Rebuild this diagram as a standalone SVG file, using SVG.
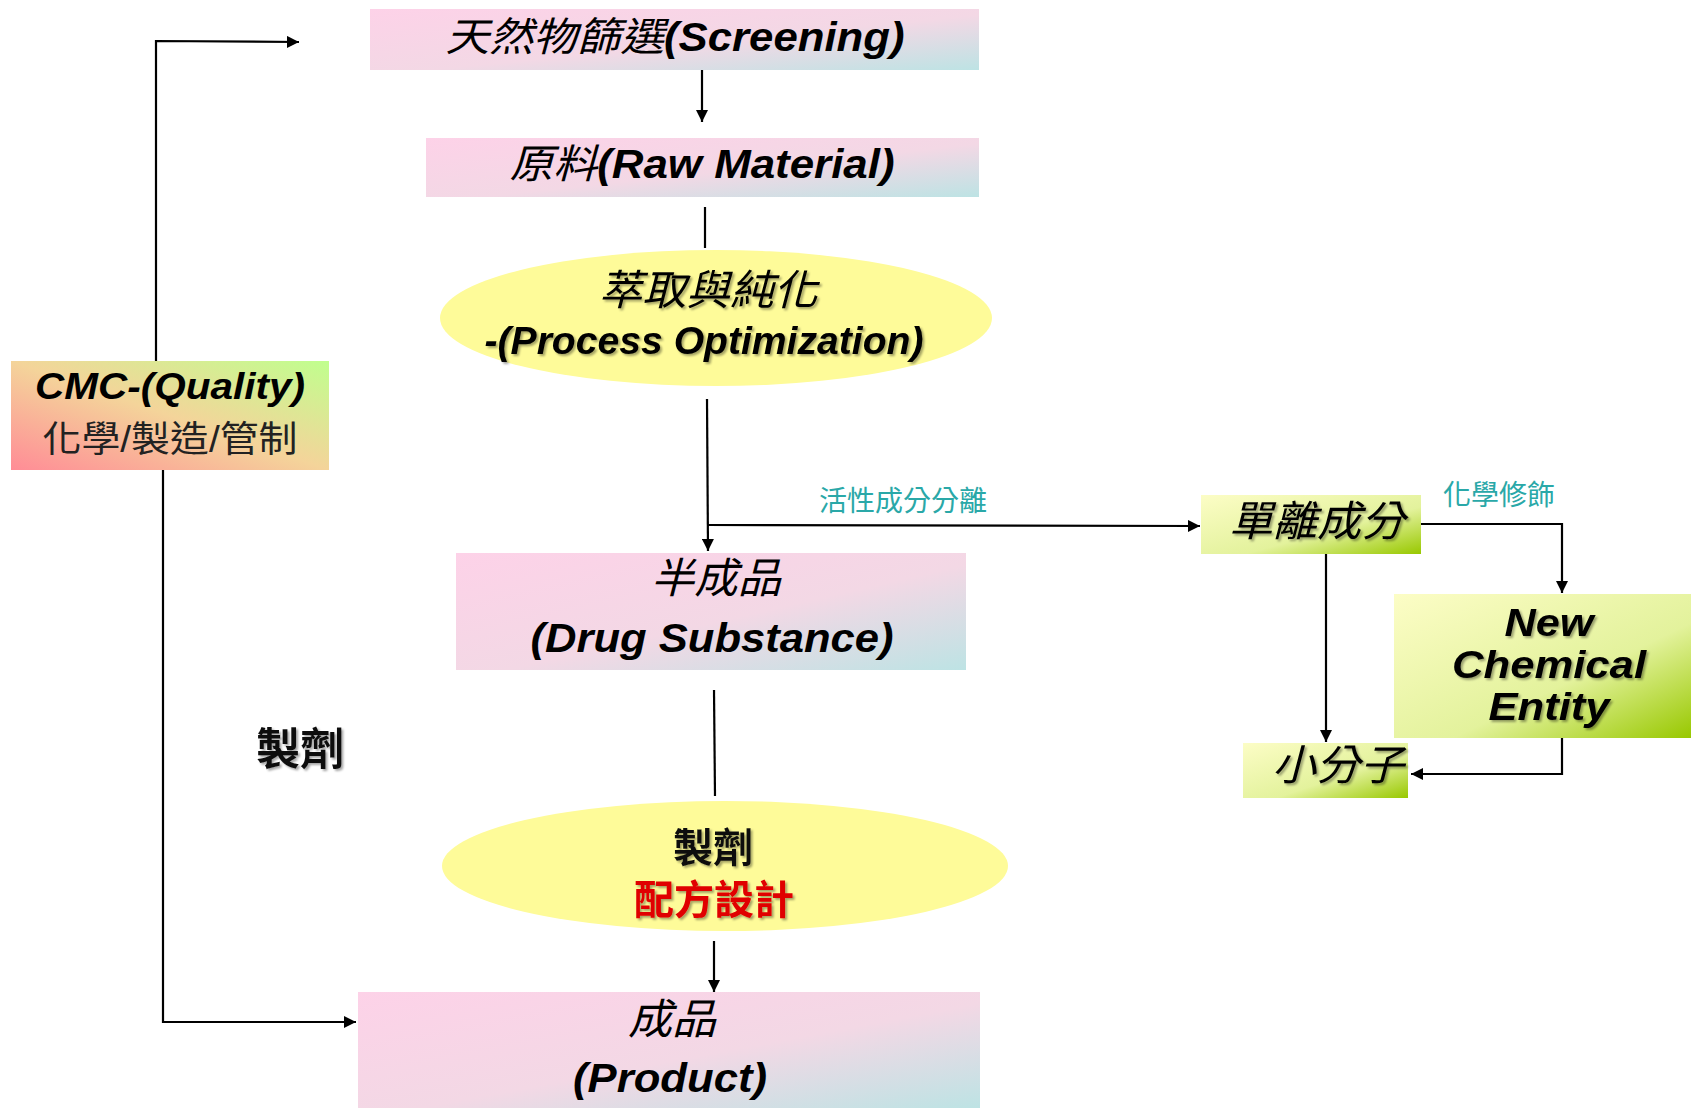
<svg xmlns="http://www.w3.org/2000/svg" width="1691" height="1108" viewBox="0 0 1691 1108">
<defs>
<linearGradient id="pink" x1="0" y1="0" x2="1" y2="1">
<stop offset="0" stop-color="#fdd2e8"/><stop offset="0.55" stop-color="#f3d8e5"/><stop offset="1" stop-color="#bde3e4"/>
</linearGradient>
<linearGradient id="green" x1="0" y1="0" x2="1" y2="1">
<stop offset="0" stop-color="#fcfdc6"/><stop offset="0.6" stop-color="#e3f29c"/><stop offset="1" stop-color="#98c800"/>
</linearGradient>
<linearGradient id="cmc" x1="0" y1="1" x2="1" y2="0">
<stop offset="0" stop-color="#ff8c96"/><stop offset="0.5" stop-color="#f4d49a"/><stop offset="1" stop-color="#c0ff8e"/>
</linearGradient>
<filter id="sh" x="-10%" y="-20%" width="120%" height="150%">
<feDropShadow dx="2" dy="2" stdDeviation="1.2" flood-color="#000" flood-opacity="0.35"/>
</filter>
<marker id="ah" viewBox="0 0 10 10" refX="10" refY="5" markerWidth="5.5" markerHeight="5.5" orient="auto" markerUnits="strokeWidth">
<path d="M0,0 L10,5 L0,10 Z" fill="#000"/>
</marker>
<style>
.ln{stroke:#000;stroke-width:2.2;fill:none}
.t{font-family:"Liberation Sans","Noto Sans CJK TC",sans-serif;font-weight:bold;font-style:italic;fill:#000;text-anchor:middle}
.n{font-weight:normal}
.c{font-family:"Liberation Sans","Noto Sans CJK TC",sans-serif;text-anchor:middle}
.teal{fill:#2aa8a8;font-size:28px}
</style>
</defs>

<g id="connectors">
<path class="ln" d="M702,70 V122" marker-end="url(#ah)"/>
<path class="ln" d="M705,207 V248"/>
<path class="ln" d="M707,399 L708,551" marker-end="url(#ah)"/>
<path class="ln" d="M708,525 L1200,526" marker-end="url(#ah)"/>
<path class="ln" d="M1421,524 H1562 V593" marker-end="url(#ah)"/>
<path class="ln" d="M1326,553 V742" marker-end="url(#ah)"/>
<path class="ln" d="M1562,717 V774 H1411" marker-end="url(#ah)"/>
<path class="ln" d="M714,690 L715,796"/>
<path class="ln" d="M714,941 V992" marker-end="url(#ah)"/>
<path class="ln" d="M156,361 V41 L299,42" marker-end="url(#ah)"/>
<path class="ln" d="M163,470 V1022 H356" marker-end="url(#ah)"/>
</g>

<g id="screening">
<rect x="370" y="9" width="609" height="61" fill="url(#pink)"/>
<text class="t" x="675" y="51" font-size="40" textLength="459" lengthAdjust="spacingAndGlyphs"><tspan class="n">天然物篩選</tspan>(Screening)</text>
</g>

<g id="raw-material">
<rect x="426" y="138" width="553" height="59" fill="url(#pink)"/>
<text class="t" x="702" y="178" font-size="40" textLength="385" lengthAdjust="spacingAndGlyphs"><tspan class="n">原料</tspan>(Raw Material)</text>
</g>

<g id="extraction">
<ellipse cx="716" cy="318" rx="276" ry="68" fill="#fefb99"/>
<text class="t n" x="708" y="305" font-size="42" textLength="219" lengthAdjust="spacingAndGlyphs" filter="url(#sh)">萃取與純化</text>
<text class="t" x="704" y="354" font-size="38" textLength="439" lengthAdjust="spacingAndGlyphs" filter="url(#sh)">-(Process Optimization)</text>
</g>

<g id="drug-substance">
<rect x="456" y="553" width="510" height="117" fill="url(#pink)"/>
<text class="t n" x="716" y="593" font-size="42" textLength="130" lengthAdjust="spacingAndGlyphs">半成品</text>
<text class="t" x="712" y="652" font-size="40" textLength="363" lengthAdjust="spacingAndGlyphs">(Drug Substance)</text>
</g>

<g id="formulation">
<ellipse cx="725" cy="866" rx="283" ry="65" fill="#fefb99"/>
<text class="c" x="713" y="862" font-size="40" font-weight="bold" fill="#111" filter="url(#sh)">製劑</text>
<text class="c" x="714" y="914" font-size="40" font-weight="bold" fill="#e00000" filter="url(#sh)">配方設計</text>
</g>

<g id="product">
<rect x="358" y="992" width="622" height="116" fill="url(#pink)"/>
<text class="t n" x="672" y="1034" font-size="42" textLength="88" lengthAdjust="spacingAndGlyphs">成品</text>
<text class="t" x="670" y="1092" font-size="40" textLength="194" lengthAdjust="spacingAndGlyphs">(Product)</text>
</g>

<g id="cmc">
<rect x="11" y="361" width="318" height="109" fill="url(#cmc)"/>
<text class="t" x="170" y="399" font-size="36" textLength="270" lengthAdjust="spacingAndGlyphs">CMC-(Quality)</text>
<text class="c" x="170" y="452" font-size="36" fill="#222" textLength="255" lengthAdjust="spacingAndGlyphs">化學/製造/管制</text>
</g>

<g id="label-formulation">
<text class="c" x="300" y="765" font-size="44" font-weight="bold" fill="#111" filter="url(#sh)">製劑</text>
</g>

<g id="label-separation">
<text class="c teal" x="903" y="511">活性成分分離</text>
</g>

<g id="isolated">
<rect x="1201" y="495" width="220" height="59" fill="url(#green)"/>
<text class="t n" x="1317" y="536" font-size="42" textLength="176" lengthAdjust="spacingAndGlyphs" filter="url(#sh)">單離成分</text>
</g>

<g id="label-modification">
<text class="c teal" x="1499" y="505">化學修飾</text>
</g>

<g id="nce">
<rect x="1394" y="594" width="297" height="144" fill="url(#green)"/>
<text class="t" x="1549" y="636" font-size="39" textLength="89" lengthAdjust="spacingAndGlyphs" filter="url(#sh)">New</text>
<text class="t" x="1549" y="678" font-size="39" textLength="194" lengthAdjust="spacingAndGlyphs" filter="url(#sh)">Chemical</text>
<text class="t" x="1549" y="720" font-size="39" textLength="121" lengthAdjust="spacingAndGlyphs" filter="url(#sh)">Entity</text>
</g>

<g id="small-molecule">
<rect x="1243" y="743" width="165" height="55" fill="url(#green)"/>
<text class="t n" x="1338" y="780" font-size="42" textLength="132" lengthAdjust="spacingAndGlyphs" filter="url(#sh)">小分子</text>
</g>
</svg>
